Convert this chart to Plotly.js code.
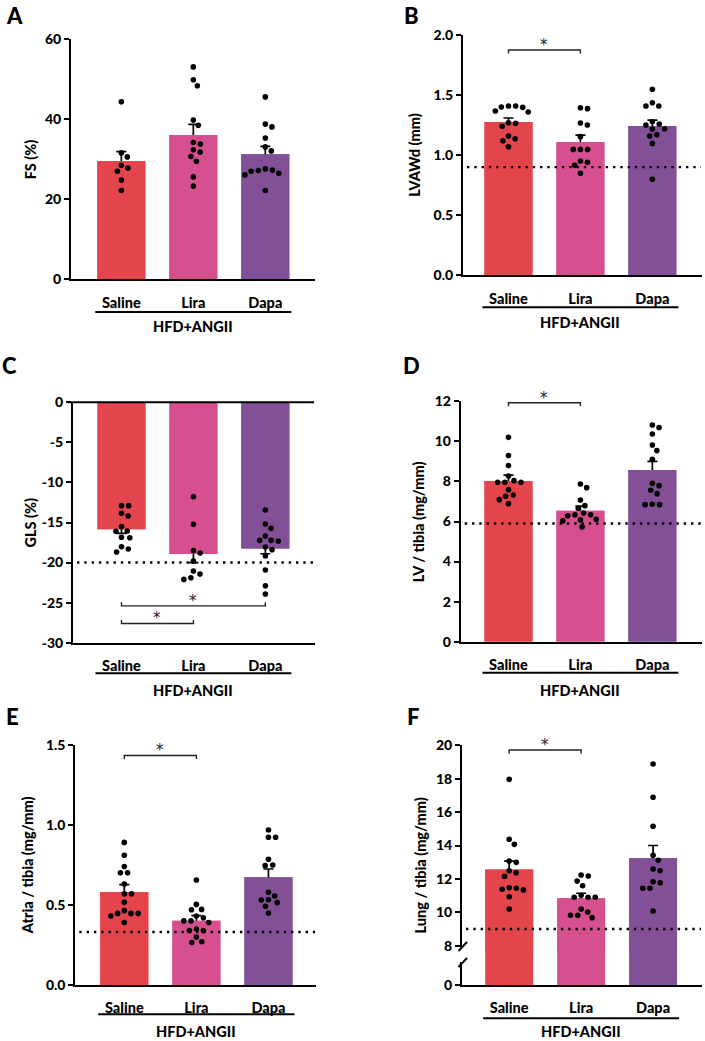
<!DOCTYPE html>
<html><head><meta charset="utf-8">
<script src="https://cdn.plot.ly/plotly-3.0.1.min.js"></script>
<style>html,body{margin:0;padding:0;background:#fff}#chart{width:705px;height:1041px}</style>
</head><body><div id="chart"></div>
<script>
// ---------------- DATA ----------------
const groups = ['Saline', 'Lira', 'Dapa'];
const groupLabel = 'HFD+ANGII';
const colors = ['#E4444B', '#D6508F', '#834F96'];

// A: FS (%)
const fsSaline = [44.4, 31.6, 30.6, 28.5, 27.8, 27.0, 24.8, 22.2];
const fsLira = [53.1, 49.9, 48.4, 39.8, 38.5, 34.2, 33.8, 32.4, 31.8, 30.7, 29.5, 25.6, 23.3];
const fsDapa = [45.6, 38.8, 38.1, 35.3, 33.1, 32.1, 27.6, 27.2, 26.5, 26.1, 27.0, 27.3, 22.2];
const fsMean = [29.6, 36.1, 31.25];
const fsSem = [2.3, 2.65, 2.0];

// B: LVAWd (mm)
const lvSaline = [1.409, 1.398, 1.367, 1.359, 1.40, 1.409, 1.27, 1.265, 1.24, 1.159, 1.137, 1.12, 1.07];
const lvLira = [1.395, 1.387, 1.251, 1.267, 1.154, 1.048, 1.048, 1.048, 0.94, 0.951, 0.915, 0.849];
const lvDapa = [1.548, 1.436, 1.409, 1.409, 1.278, 1.251, 1.259, 1.217, 1.22, 1.17, 1.159, 1.098, 0.799];
const lvMean = [1.276, 1.109, 1.242];
const lvSem = [0.033, 0.058, 0.05];
const lvRef = 0.9;

// C: GLS (%)
const glsSaline = [-12.9, -12.9, -13.86, -14.19, -15.52, -16.06, -16.1, -16.85, -16.9, -18.02, -18.31, -18.68];
const glsLira = [-11.78, -15.23, -18.5, -18.82, -19.8, -21.06, -21.44, -22.1, -21.9];
const glsDapa = [-13.44, -15.19, -15.73, -16.69, -17.23, -17.31, -17.23, -18.06, -18.39, -19.18, -20.93, -22.89, -23.93];
const glsMean = [-15.85, -18.93, -18.23];
const glsSem = [0.5, 1.07, 0.67];
const glsRef = -20;

// D: LV / tibia (mg/mm)
const lvtSaline = [10.2, 9.29, 8.79, 8.27, 7.96, 7.96, 7.96, 8.04, 7.59, 7.32, 7.26, 7.09, 6.89];
const lvtLira = [7.87, 7.69, 7.07, 6.79, 6.66, 6.42, 6.34, 6.34, 6.29, 6.08, 6.03, 6.11, 5.73];
const lvtDapa = [10.82, 10.69, 10.37, 9.82, 9.54, 9.11, 7.79, 7.91, 7.56, 7.39, 6.86, 6.84, 6.84];
const lvtMean = [8.02, 6.54, 8.57];
const lvtSem = [0.29, 0.23, 0.43];
const lvtRef = 5.9;

// E: Atria / tibia (mg/mm)
const atSaline = [0.89, 0.81, 0.74, 0.70, 0.70, 0.63, 0.57, 0.57, 0.516, 0.464, 0.447, 0.431, 0.447, 0.447, 0.39];
const atLira = [0.655, 0.503, 0.472, 0.47, 0.43, 0.42, 0.40, 0.40, 0.39, 0.34, 0.34, 0.35, 0.30, 0.265, 0.27];
const atDapa = [0.968, 0.922, 0.922, 0.785, 0.749, 0.745, 0.579, 0.556, 0.532, 0.53, 0.514, 0.491, 0.449];
const atMean = [0.58, 0.4015, 0.672];
const atSem = [0.046, 0.032, 0.052];
const atRef = 0.331;

// F: Lung / tibia (mg/mm)
const luSaline = [17.96, 14.37, 14.07, 12.99, 13.07, 12.37, 12.49, 12.16, 11.38, 11.47, 11.44, 11.34, 10.93, 10.2];
const luLira = [12.17, 12.23, 11.87, 11.59, 10.9, 10.9, 10.9, 11.02, 10.2, 9.82, 9.68, 9.82, 10.02];
const luDapa = [18.88, 16.89, 15.15, 13.41, 13.11, 12.49, 12.59, 11.83, 11.77, 11.44, 11.44, 10.08];
const luMean = [12.57, 10.84, 13.23];
const luSem = [0.5, 0.3, 0.77];
const luRef = 9.0;

// ---------------- GEOMETRY (pixels) ----------------
const W = 705, H = 1041;
const panels = [
  {id:'A', title:'FS (%)', dots:[fsSaline, fsLira, fsDapa], mean:fsMean, sem:fsSem, ref:null, sig:[],
   xl:71, xr:315, yt:39.3, yb:279.3, y0:0, y1:60, x0:-0.699, x1:2.69, tickvals:[0,20,40,60], fmt:v=>String(v),
   letter:[14,15.5], ytitleX:30, lineDy:32.7, textDy:47.7},
  {id:'B', title:'LVAWd (mm)', dots:[lvSaline, lvLira, lvDapa], mean:lvMean, sem:lvSem, ref:lvRef, sig:[[0,1,1.875]],
   xl:463, xr:702, yt:35, yb:275.3, y0:0, y1:2, x0:-0.632, x1:2.69, tickvals:[0,0.5,1,1.5,2], fmt:v=>v.toFixed(1),
   letter:[412,15], ytitleX:413.7, lineDy:32, textDy:47.4},
  {id:'C', title:'GLS (%)', dots:[glsSaline, glsLira, glsDapa], mean:glsMean, sem:glsSem, ref:glsRef, sig:[[0,2,-25.4],[0,1,-27.6]],
   xl:73, xr:315, yt:402.3, yb:642.7, y0:-30, y1:0, x0:-0.674, x1:2.69, tickvals:[0,-5,-10,-15,-20,-25,-30], fmt:v=>String(v),
   letter:[9.5,366], ytitleX:30, lineDy:30.6, textDy:47.3, zeroTop:true},
  {id:'D', title:'LV / tibia (mg/mm)', dots:[lvtSaline, lvtLira, lvtDapa], mean:lvtMean, sem:lvtSem, ref:lvtRef, sig:[[0,1,11.93]],
   xl:460.7, xr:702, yt:401.3, yb:641.7, y0:0, y1:12, x0:-0.664, x1:2.69, tickvals:[0,2,4,6,8,10,12], fmt:v=>String(v),
   letter:[412,365], ytitleX:418.7, lineDy:31, textDy:48.3},
  {id:'E', title:'Atria / tibia (mg/mm)', dots:[atSaline, atLira, atDapa], mean:atMean, sem:atSem, ref:atRef, sig:[[0,1,1.433]],
   xl:75.3, xr:316, yt:744.7, yb:985, y0:0, y1:1.5, x0:-0.68, x1:2.66, tickvals:[0,0.5,1,1.5], fmt:v=>v.toFixed(1),
   letter:[12.5,716], ytitleX:28.3, lineDy:29.3, textDy:46.7},
  {id:'F', title:'Lung / tibia (mg/mm)', dots:[luSaline, luLira, luDapa], mean:luMean, sem:luSem, ref:luRef, sig:[[0,1,19.72]],
   xl:462, xr:702, yt:745.3, yb:954, y0:7.503, y1:20, x0:-0.656, x1:2.68, tickvals:[8,10,12,14,16,18,20], fmt:v=>String(v),
   letter:[413,716], ytitleX:420.3, lineDy:33.3, textDy:46.7, broken:{yb:985, y0:0, y1:1}}
];

const px2x = p => p / W;
const px2y = p => 1 - p / H;
function xpx(p, v) { return p.xl + (v - p.x0) / (p.x1 - p.x0) * (p.xr - p.xl); }
function ypx(p, v) { return p.yb - (v - p.y0) / (p.y1 - p.y0) * (p.yb - p.yt); }

// beeswarm offsets (pixel-space collision avoidance)
function swarm(vals, pxY, pxX, D) {
  const idx = vals.map((v, i) => i).sort((a, b) => vals[b] - vals[a]);
  const placed = [], off = new Array(vals.length);
  for (const i of idx) {
    const y = vals[i] * pxY;
    const cands = [0];
    for (const q of placed) {
      const dy = y - q.y;
      if (Math.abs(dy) < D) { const dx = Math.sqrt(D * D - dy * dy); cands.push(q.x + dx, q.x - dx); }
    }
    cands.sort((a, b) => (Math.abs(a) - Math.abs(b)) || (b - a));
    let chosen = 0;
    for (const c of cands) {
      if (placed.every(q => (q.x - c) ** 2 + (q.y - y) ** 2 >= D * D - 1e-6)) { chosen = c; break; }
    }
    placed.push({x: chosen, y: y});
    off[i] = chosen / pxX;
  }
  return off;
}

const FONT = 'Lato, "Open Sans", sans-serif';
const traces = [], shapes = [], annotations = [];
const layout = {
  width: W, height: H, margin: {l: 0, r: 0, t: 0, b: 0},
  paper_bgcolor: '#fff', plot_bgcolor: 'rgba(0,0,0,0)', showlegend: false,
  barmode: 'overlay', font: {family: FONT, color: '#000'}, hovermode: false
};

panels.forEach((p, k) => {
  const n = k + 1;
  const xa = 'x' + (n === 1 ? '' : n), ya = 'y' + (n === 1 ? '' : n);
  const xKey = 'xaxis' + (n === 1 ? '' : n), yKey = 'yaxis' + (n === 1 ? '' : n);
  let yMain = ya, yMainKey = yKey, lowerY = null;
  const ytickfont = {family: FONT, size: 14, color: '#000', weight: 900};
  const xtickfont = {family: FONT, size: 14.5, color: '#000', weight: 900};
  const yCommon = {showline: true, linecolor: '#000', linewidth: 2, ticks: 'outside', ticklen: 5, tickwidth: 2,
    tickcolor: '#000', showgrid: false, zeroline: false, tickfont: ytickfont, fixedrange: true};

  layout[xKey] = {domain: [px2x(p.xl), px2x(p.xr)], range: [p.x0, p.x1], anchor: ya,
    showline: true, linecolor: '#000', linewidth: 2, ticks: '', showgrid: false, zeroline: false,
    tickvals: [0, 1, 2], ticktext: groups, tickfont: xtickfont, ticklabelstandoff: 9, fixedrange: true};

  if (p.broken) {
    layout[yKey] = Object.assign({}, yCommon, {domain: [px2y(p.broken.yb), px2y(p.yb)], range: [p.broken.y0, p.broken.y1],
      tickvals: [0], ticktext: ['0'], anchor: xa});
    yMain = 'y7'; yMainKey = 'yaxis7'; lowerY = ya;
    layout[yMainKey] = Object.assign({}, yCommon, {domain: [px2y(p.yb), px2y(p.yt)], range: [p.y0, p.y1],
      tickvals: p.tickvals, ticktext: p.tickvals.map(p.fmt), anchor: xa});
  } else {
    layout[yKey] = Object.assign({}, yCommon, {domain: [px2y(p.yb), px2y(p.yt)], range: [p.y0, p.y1],
      tickvals: p.tickvals, ticktext: p.tickvals.map(p.fmt), anchor: xa});
  }

  const xs = [0, 1, 2];
  traces.push({type: 'bar', x: xs, y: p.mean, width: 0.667, xaxis: xa, yaxis: yMain,
    marker: {color: colors, line: {width: 0}},
    error_y: {type: 'data', array: p.sem, symmetric: true, color: '#000', thickness: 1.7, width: 5}});
  traces.push({type: 'bar', x: xs, y: p.mean, width: 0.667, xaxis: xa, yaxis: yMain,
    marker: {color: colors, line: {width: 0}}});
  if (lowerY) {
    traces.push({type: 'bar', x: xs, y: p.mean, width: 0.667, xaxis: xa, yaxis: lowerY,
      marker: {color: colors, line: {width: 0}}});
  }

  const pxY = (p.yb - p.yt) / (p.y1 - p.y0);
  const pxX = (p.xr - p.xl) / (p.x1 - p.x0);
  p.dots.forEach((vals, g) => {
    const off = swarm(vals, pxY, pxX, 7.2);
    traces.push({type: 'scatter', mode: 'markers', x: vals.map((v, i) => g + off[i]), y: vals,
      xaxis: xa, yaxis: yMain, cliponaxis: false, marker: {color: '#000', size: 5.6, line: {width: 0}}});
  });

  if (p.ref !== null) {
    const yy = ypx(p, p.ref);
    shapes.push({type: 'line', xref: 'paper', yref: 'paper', x0: px2x(p.xl + 4), x1: px2x(p.xr - 1),
      y0: px2y(yy), y1: px2y(yy), line: {color: '#000', width: 2.4, dash: '2.4px,4.9px'}});
  }

  if (p.zeroTop) {
    shapes.push({type: 'line', xref: 'paper', yref: 'paper', x0: px2x(p.xl - 5), x1: px2x(p.xr - 1),
      y0: px2y(p.yt), y1: px2y(p.yt), line: {color: '#000', width: 2}});
  }

  p.sig.forEach(s => {
    const xa0 = xpx(p, s[0]), xa1 = xpx(p, s[1]), yy = ypx(p, s[2]);
    const dir = (p.y1 <= 0) ? -3.5 : 3.5;
    const path = 'M' + px2x(xa0) + ',' + px2y(yy + dir) + ' L' + px2x(xa0) + ',' + px2y(yy) +
      ' L' + px2x(xa1) + ',' + px2y(yy) + ' L' + px2x(xa1) + ',' + px2y(yy + dir);
    shapes.push({type: 'path', xref: 'paper', yref: 'paper', path: path, line: {color: '#222', width: 1.4}});
    annotations.push({xref: 'paper', yref: 'paper', x: px2x((xa0 + xa1) / 2), y: px2y(yy - 5), text: '*',
      showarrow: false, xanchor: 'center', yanchor: 'middle', font: {family: '"DejaVu Sans", sans-serif', size: 15, color: '#222'}});
  });

  const bottom = p.broken ? p.broken.yb : p.yb;
  const ul0 = xpx(p, -0.362), ul1 = xpx(p, 2.362);
  shapes.push({type: 'line', xref: 'paper', yref: 'paper', x0: px2x(ul0), x1: px2x(ul1),
    y0: px2y(bottom + p.lineDy), y1: px2y(bottom + p.lineDy), line: {color: '#000', width: 2}});
  annotations.push({xref: 'paper', yref: 'paper', x: px2x((ul0 + ul1) / 2), y: px2y(bottom + p.textDy), text: groupLabel,
    showarrow: false, xanchor: 'center', yanchor: 'middle', font: {family: FONT, size: 14.5, color: '#000', weight: 900}});

  annotations.push({xref: 'paper', yref: 'paper', x: px2x(p.ytitleX), y: px2y((p.yt + bottom) / 2), text: p.title,
    textangle: -90, showarrow: false, xanchor: 'center', yanchor: 'middle',
    font: {family: FONT, size: 14.5, color: '#000', weight: 900}});

  annotations.push({xref: 'paper', yref: 'paper', x: px2x(p.letter[0]), y: px2y(p.letter[1]), text: p.id,
    showarrow: false, xanchor: 'center', yanchor: 'middle', borderpad: 0,
    font: {family: FONT, size: 22, color: '#000', weight: 900}});

  if (p.broken) {
    shapes.push({type: 'rect', xref: 'paper', yref: 'paper', x0: px2x(p.xl - 4), x1: px2x(p.xl + 3),
      y0: px2y(962), y1: px2y(947), fillcolor: '#fff', line: {width: 0}, layer: 'above'});
    shapes.push({type: 'line', xref: 'paper', yref: 'paper', x0: px2x(p.xl - 3.5), y0: px2y(951), x1: px2x(p.xl + 5), y1: px2y(942),
      line: {color: '#000', width: 2}});
    shapes.push({type: 'line', xref: 'paper', yref: 'paper', x0: px2x(p.xl - 3.5), y0: px2y(967), x1: px2x(p.xl + 5), y1: px2y(958),
      line: {color: '#000', width: 2}});
  }
});

layout.shapes = shapes;
layout.annotations = annotations;
Plotly.newPlot('chart', traces, layout, {staticPlot: true, displayModeBar: false});
</script>
</body></html>
